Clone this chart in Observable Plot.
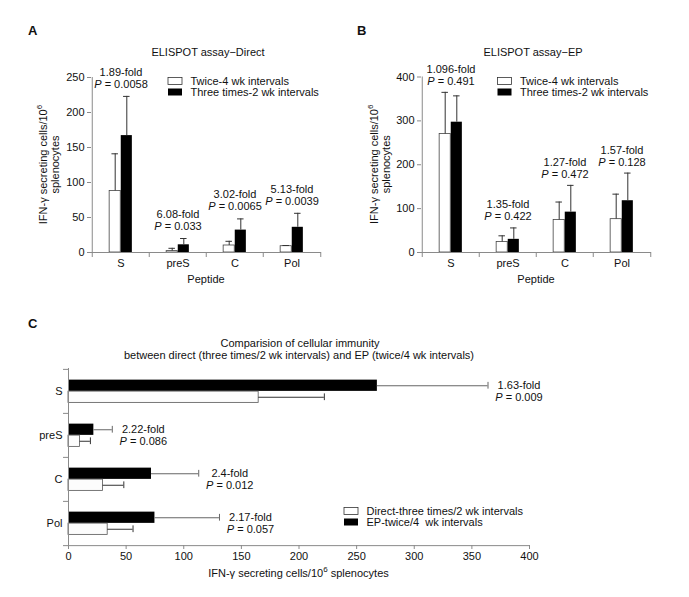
<!DOCTYPE html>
<html><head><meta charset="utf-8">
<script src="https://cdn.jsdelivr.net/npm/d3@7"></script>
<script src="https://cdn.jsdelivr.net/npm/@observablehq/plot@0.6"></script>
<style>
html,body{margin:0;padding:0;background:#fff;}
#root{position:relative;width:689px;height:597px;background:#fff;overflow:hidden;}
.panel{position:absolute;}
.panel svg{display:block;}
</style></head><body><div id="root"></div>
<script>
// ---------- data ----------
const peptides = ["S", "preS", "C", "Pol"];

// Panel A: ELISPOT assay - Direct
const directSeries = ["Twice-4 wk intervals", "Three times-2 wk intervals"];
const directTwice = [88, 2, 10, 9];
const directTwiceErr = [141, 6, 16, 10];
const directThrice = [167, 11, 32, 36];
const directThriceErr = [223, 20, 48, 56];
const directFold = ["1.89-fold", "6.08-fold", "3.02-fold", "5.13-fold"];
const directP = ["0.0058", "0.033", "0.0065", "0.0039"];
const directTicks = [0, 50, 100, 150, 200, 250];

// Panel B: ELISPOT assay - EP
const epSeries = ["Twice-4 wk intervals", "Three times-2 wk intervals"];
const epTwice = [270, 24, 74, 76];
const epTwiceErr = [365, 38, 115, 133];
const epThrice = [297, 30, 92, 118];
const epThriceErr = [357, 56, 153, 181];
const epFold = ["1.096-fold", "1.35-fold", "1.27-fold", "1.57-fold"];
const epP = ["0.491", "0.422", "0.472", "0.128"];
const epTicks = [0, 100, 200, 300, 400];

// Panel C: comparison
const compSeries = ["Direct-three times/2 wk intervals", "EP-twice/4  wk intervals"];
const compDirect = [165, 10, 30, 34];
const compDirectErr = [222, 19, 48, 56];
const compEP = [268, 22, 72, 75];
const compEPErr = [364, 38, 113, 131];
const compFold = ["1.63-fold", "2.22-fold", "2.4-fold", "2.17-fold"];
const compP = ["0.009", "0.086", "0.012", "0.057"];
const compTicks = [0, 50, 100, 150, 200, 250, 300, 350, 400];

// ---------- helpers ----------
const FONT = '"Liberation Sans", Arial, Helvetica, sans-serif';
const AXIS = "#8a8a8a";
const INK = "#111";
const root = document.getElementById("root");

function mount(svg, left, top, w, h) {
  const div = document.createElement("div");
  div.className = "panel";
  div.style.left = left + "px"; div.style.top = top + "px";
  div.style.width = w + "px"; div.style.height = h + "px";
  div.appendChild(svg);
  root.appendChild(div);
}
function addText(svg, x, y, str, opts = {}) {
  const t = d3.select(svg).append("text")
    .attr("x", x).attr("y", y)
    .attr("text-anchor", opts.anchor || "middle")
    .attr("fill", INK)
    .attr("font-size", opts.size || 11)
    .attr("font-weight", opts.weight || "normal")
    .style("white-space", "pre")
    .text(str);
  if (opts.rotate) t.attr("transform", `rotate(${opts.rotate},${x},${y})`);
  return t;
}
function italicP(svg) {
  d3.select(svg).selectAll("text").each(function () {
    const s = this.textContent;
    if (s.startsWith("P = ")) {
      const sel = d3.select(this);
      sel.text(null);
      sel.append("tspan").attr("font-style", "italic").text("P");
      sel.append("tspan").text(s.slice(1));
    }
  });
}
function yLabel(svg, xBase, yc) {
  const t = addText(svg, xBase, yc, "IFN-γ secreting cells/10", {rotate: -90});
  t.append("tspan").attr("font-size", 8).attr("dy", -5).text("6");
  addText(svg, xBase + 12, yc, "splenocytes", {rotate: -90});
}
function legend(svg, bx, by, names) {
  const g = d3.select(svg).append("g");
  g.append("rect").attr("x", bx).attr("y", by).attr("width", 14).attr("height", 7)
    .attr("fill", "#fff").attr("stroke", "#333").attr("stroke-width", 0.8);
  g.append("rect").attr("x", bx).attr("y", by + 11).attr("width", 14).attr("height", 7)
    .attr("fill", "#000");
  addText(svg, bx + 22.5, by + 7.5, names[0], {anchor: "start"});
  addText(svg, bx + 22.5, by + 18.5, names[1], {anchor: "start"});
}

// ---------- vertical grouped panels (A, B) ----------
function verticalPanel(cfg) {
  const {width, height, mL, mR, mT, mB, yMax, ticks, white, whiteErr, black, blackErr, fold, pv, dyP} = cfg;
  const rows = peptides.map((p, i) => ({
    peptide: p, white: white[i], whiteErr: whiteErr[i], black: black[i], blackErr: blackErr[i],
    top: Math.max(whiteErr[i], blackErr[i]), fold: fold[i], p: "P = " + pv[i]
  }));
  const bw = (width - mL - mR) / peptides.length;
  const half = bw / 2, barW = 11.6, capW = 7;
  const wc = half - barW / 2, bc = half + barW / 2;
  return Plot.plot({
    width, height, marginLeft: mL, marginRight: mR, marginTop: mT, marginBottom: mB,
    style: {fontFamily: FONT, fontSize: "11px", color: INK, background: "transparent", overflow: "visible"},
    x: {type: "band", domain: peptides, padding: 0, label: null},
    y: {domain: [0, yMax], label: null},
    marks: [
      Plot.barY(rows, {x: "peptide", y: "white", fill: "#fff", stroke: "#444", strokeWidth: 0.8, insetLeft: half - barW, insetRight: half}),
      Plot.barY(rows, {x: "peptide", y: "black", fill: "#000", insetLeft: half, insetRight: half - barW}),
      Plot.ruleX(rows, {x: "peptide", y1: "white", y2: "whiteErr", dx: -barW / 2, stroke: "#333"}),
      Plot.tickY(rows, {x: "peptide", y: "whiteErr", insetLeft: wc - capW / 2, insetRight: bw - wc - capW / 2, stroke: "#333"}),
      Plot.ruleX(rows, {x: "peptide", y1: "black", y2: "blackErr", dx: barW / 2, stroke: "#333"}),
      Plot.tickY(rows, {x: "peptide", y: "blackErr", insetLeft: bc - capW / 2, insetRight: bw - bc - capW / 2, stroke: "#333"}),
      Plot.ruleY([0], {stroke: AXIS}),
      Plot.ruleX([peptides[0]], {dx: -half, stroke: AXIS}),
      Plot.axisY({ticks, tickSize: 4, tickPadding: 3, stroke: AXIS, label: null}),
      Plot.axisX({tickSize: 0, tickPadding: 7, label: null}),
      Plot.axisX({tickSize: 5, tickFormat: () => "", dx: -half, stroke: AXIS, label: null}),
      Plot.axisX([peptides[peptides.length - 1]], {tickSize: 5, tickFormat: () => "", dx: half, stroke: AXIS, label: null}),
      Plot.text(rows, {x: "peptide", y: "top", text: "p", dy: dyP, fill: INK}),
      Plot.text(rows, {x: "peptide", y: "top", text: "fold", dy: dyP - 12, fill: INK})
    ]
  });
}

// Panel A
const svgA = verticalPanel({
  width: 345, height: 300, mL: 91, mR: 24, mT: 77, mB: 48, yMax: 250, ticks: directTicks,
  white: directTwice, whiteErr: directTwiceErr, black: directThrice, blackErr: directThriceErr,
  fold: directFold, pv: directP, dyP: -12
});
italicP(svgA);
addText(svgA, 28, 35, "A", {anchor: "start", weight: "bold", size: 13});
addText(svgA, 208, 55.5, "ELISPOT assay\u2212Direct");
addText(svgA, 206, 283, "Peptide");
yLabel(svgA, 47, 164.5);
legend(svgA, 168, 77.5, directSeries);
mount(svgA, 0, 0, 345, 300);

// Panel B
const svgB = verticalPanel({
  width: 345, height: 300, mL: 77, mR: 38, mT: 76.5, mB: 48, yMax: 400, ticks: epTicks,
  white: epTwice, whiteErr: epTwiceErr, black: epThrice, blackErr: epThriceErr,
  fold: epFold, pv: epP, dyP: -11
});
italicP(svgB);
addText(svgB, 13, 35, "B", {anchor: "start", weight: "bold", size: 13});
addText(svgB, 189, 55.5, "ELISPOT assay\u2212EP");
addText(svgB, 192, 283, "Peptide");
yLabel(svgB, 34, 164.25);
legend(svgB, 153.5, 77.5, epSeries);
mount(svgB, 344, 0, 345, 300);

// ---------- Panel C (horizontal) ----------
(function () {
  const rows = peptides.map((p, i) => ({
    peptide: p, direct: compDirect[i], directErr: compDirectErr[i], ep: compEP[i], epErr: compEPErr[i],
    fold: compFold[i], p: "P = " + compP[i]
  }));
  const width = 689, height = 297, mL = 68, mR = 160, mT = 68, mB = 52;
  const bh = (height - mT - mB) / peptides.length;
  const h = bh / 2, barH = 11.5, capH = 7;
  const ec = h - barH / 2, dc = h + barH / 2;
  const svg = Plot.plot({
    width, height, marginLeft: mL, marginRight: mR, marginTop: mT, marginBottom: mB,
    style: {fontFamily: FONT, fontSize: "11px", color: INK, background: "transparent", overflow: "visible"},
    x: {domain: [0, 400], label: null},
    y: {type: "band", domain: peptides, padding: 0, label: null},
    marks: [
      Plot.barX(rows, {y: "peptide", x: "ep", fill: "#000", insetTop: h - barH, insetBottom: h}),
      Plot.barX(rows, {y: "peptide", x: "direct", fill: "#fcfcfc", stroke: "#555", strokeWidth: 0.8, insetTop: h, insetBottom: h - barH}),
      Plot.ruleY(rows, {y: "peptide", x1: "ep", x2: "epErr", dy: -barH / 2, stroke: "#666"}),
      Plot.tickX(rows, {y: "peptide", x: "epErr", insetTop: ec - capH / 2, insetBottom: bh - ec - capH / 2, stroke: "#666"}),
      Plot.ruleY(rows, {y: "peptide", x1: "direct", x2: "directErr", dy: barH / 2, stroke: "#333"}),
      Plot.tickX(rows, {y: "peptide", x: "directErr", insetTop: dc - capH / 2, insetBottom: bh - dc - capH / 2, stroke: "#333"}),
      Plot.ruleX([0], {stroke: AXIS}),
      Plot.ruleY([peptides[peptides.length - 1]], {dy: h, stroke: AXIS}),
      Plot.axisX({ticks: compTicks, tickSize: 4, tickPadding: 3, stroke: AXIS, label: null}),
      Plot.axisY({tickSize: 0, tickPadding: 6, label: null}),
      Plot.axisY({tickSize: 5, tickFormat: () => "", dy: -h, stroke: AXIS, label: null}),
      Plot.axisY([peptides[peptides.length - 1]], {tickSize: 5, tickFormat: () => "", dy: h, stroke: AXIS, label: null}),
      Plot.text(rows, {y: "peptide", x: "epErr", text: "fold", dx: 31, dy: -6, fill: INK}),
      Plot.text(rows, {y: "peptide", x: "epErr", text: "p", dx: 31, dy: 6, fill: INK})
    ]
  });
  italicP(svg);
  addText(svg, 28, 28, "C", {anchor: "start", weight: "bold", size: 13});
  addText(svg, 300, 47, "Comparision of cellular immunity");
  addText(svg, 299, 59, "between direct (three times/2 wk intervals) and EP (twice/4 wk intervals)");
  const xl = addText(svg, 298.5, 277, "IFN-γ secreting cells/10");
  xl.append("tspan").attr("font-size", 8).attr("dy", -5).text("6");
  xl.append("tspan").attr("dy", 5).text(" splenocytes");
  legend(svg, 344, 207.5, compSeries);
  mount(svg, 0, 300, width, height);
})();
</script>
</body></html>
